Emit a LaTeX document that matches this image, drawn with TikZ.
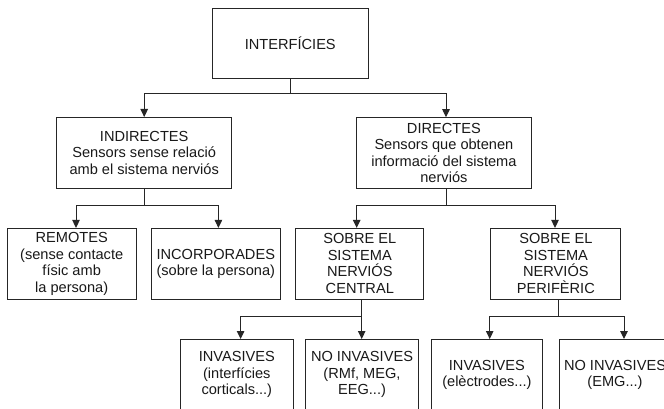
\documentclass[tikz,border=0pt]{standalone}
\usepackage{fontspec}
\setmainfont{Liberation Sans}
\usetikzlibrary{arrows.meta}
\begin{document}
\begin{tikzpicture}[x=1pt,y=-1pt,
  box/.style={draw=black!85, line width=1pt, rectangle, inner sep=0pt, align=center,
    font=\fontsize{14.6}{16.5}\selectfont, text=black!90, minimum height=70.6pt},
  arr/.style={draw=black!85, line width=1pt, -{Triangle[length=8pt,width=7.5pt]}},
  con/.style={draw=black!85, line width=1pt}]
\fill[white] (0,0) rectangle (664,409);
\useasboundingbox (0,0) rectangle (664,409);
\clip (0,0) rectangle (664,409);
% boxes
\node[box, minimum width=156pt, minimum height=70pt] (top) at (290.3,43.3) {INTERFÍCIES};
\node[box, minimum width=175pt] (ind) at (144.2,152.8) {INDIRECTES\\Sensors sense relació\\amb el sistema nerviós};
\node[box, minimum width=175.7pt] (dir) at (443.9,153) {DIRECTES\\Sensors que obtenen\\informació del sistema\\nerviós};
\node[box, minimum width=128.7pt] (rem) at (71.7,263.7) {REMOTES\\(sense contacte\\físic amb\\la persona)};
\node[box, minimum width=128.5pt] (inc) at (215.8,263.7) {INCORPORADES\\(sobre la persona)};
\node[box, minimum width=128.3pt] (snc) at (359.8,263.7) {SOBRE EL\\SISTEMA\\NERVIÓS\\CENTRAL};
\node[box, minimum width=130pt] (snp) at (555.9,263.7) {SOBRE EL\\SISTEMA\\NERVIÓS\\PERIFÈRIC};
\node[box, minimum width=113.5pt] (inv1) at (236.8,374.8) {INVASIVES\\(interfícies\\corticals...)};
\node[box, minimum width=112.6pt] (ni1) at (362,374.8) {NO INVASIVES\\(RMf, MEG,\\EEG...)};
\node[box, minimum width=111pt] (inv2) at (486.9,374.8) {INVASIVES\\(elèctrodes...)};
\node[box, minimum width=112pt] (ni2) at (615,374.8) {NO INVASIVES\\(EMG...)};
% junctions
\coordinate (j1) at (290.3,93.3);
\coordinate (j2) at (144.2,205);
\coordinate (j3) at (446,205);
\coordinate (j4) at (361.7,316.7);
\coordinate (j5) at (558,316.7);
% connectors
\draw[con] (top.south) -- (j1);
\draw[arr] (j1) -| (ind.north);
\draw[arr] (j1) -| ([xshift=2.1pt]dir.north);
\draw[con] (ind.south) -- (j2);
\draw[arr] (j2) -| ([xshift=4.3pt]rem.north);
\draw[arr] (j2) -| ([xshift=2.6pt]inc.north);
\draw[con] ([xshift=2.1pt]dir.south) -- (j3);
\draw[arr] (j3) -| ([xshift=-3.1pt]snc.north);
\draw[arr] (j3) -| ([xshift=-0.9pt]snp.north);
\draw[con] ([xshift=1.9pt]snc.south) -- (j4);
\draw[arr] (j4) -| ([xshift=3.8pt]inv1.north);
\draw[arr] (j4) -| ([xshift=-0.3pt]ni1.north);
\draw[con] ([xshift=2.1pt]snp.south) -- (j5);
\draw[arr] (j5) -| ([xshift=2.8pt]inv2.north);
\draw[arr] (j5) -| ([xshift=9pt]ni2.north);
\end{tikzpicture}
\end{document}
